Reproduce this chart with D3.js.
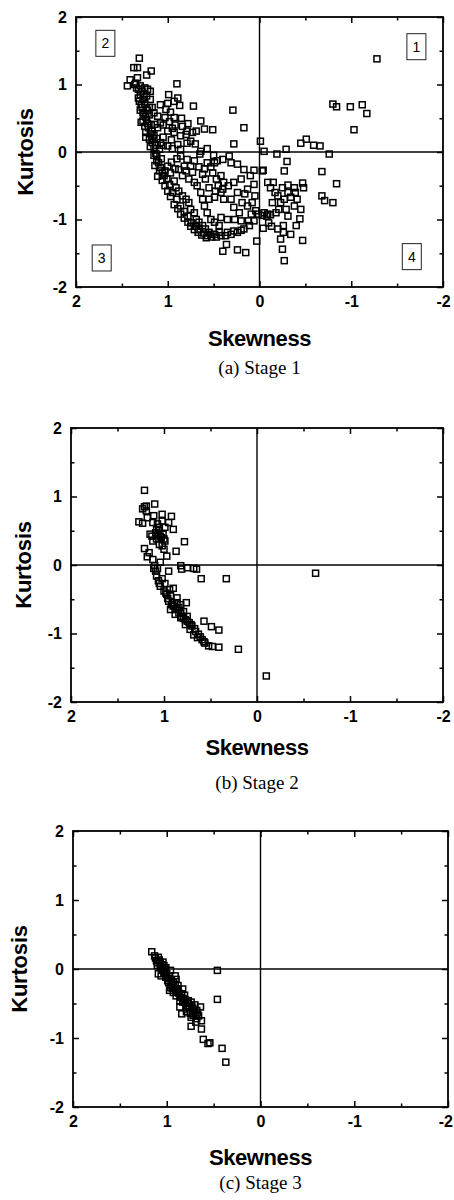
<!DOCTYPE html>
<html><head><meta charset="utf-8">
<script src="https://cdn.jsdelivr.net/npm/d3@7"></script>
<style>body{margin:0;background:#fff}svg{display:block}</style>
</head><body><svg id="fig" width="454" height="1200"></svg>
<script>
// Axis ticks and labels
const skewTicks = [2, 1, 0, -1, -2];
const kurtTicks = [-2, -1, 0, 1, 2];
const minorTicks = [1.5, 0.5, -0.5, -1.5];
const xTitle = "Skewness";
const yTitle = "Kurtosis";
const captions = ["(a) Stage 1", "(b) Stage 2", "(c) Stage 3"];

// Quadrant markers (stage 1 only): label, skewness, kurtosis
const quadrantNames = ["1", "2", "3", "4"];
const quadrantSkew = [-1.71, 1.68, 1.72, -1.66];
const quadrantKurt = [1.56, 1.61, -1.57, -1.55];

// Stage 1: [skewness, kurtosis]
const stage1 = [
 [1.31,1.39],[1.37,1.25],[1.33,1.25],[1.23,1.14],[1.18,1.20],[1.41,1.07],[1.44,0.98],[1.33,1.10],
 [1.32,0.93],[1.25,0.95],[1.22,0.93],[1.32,0.80],[1.29,0.70],[1.23,0.83],[1.19,0.78],[1.19,0.90],
 [1.28,0.66],[1.20,0.66],[1.17,0.66],[1.27,0.46],[1.22,0.42],[1.25,0.38],[1.24,0.29],[1.20,0.19],
 [1.17,0.14],[1.14,0.41],[1.11,0.36],[1.08,0.43],[1.17,0.31],[1.08,0.70],[1.02,0.63],[0.99,0.85],
 [0.89,0.80],[0.87,0.69],[0.97,0.59],[0.90,1.01],[0.93,0.51],[1.03,0.51],[1.11,0.53],[0.84,0.38],
 [0.79,0.31],[0.73,0.29],[0.69,0.31],[0.64,0.46],[0.60,0.34],[0.51,0.33],[0.72,0.68],[0.29,0.62],
 [0.17,0.36],[0.28,0.12],[1.00,0.31],[0.93,0.29],[0.86,0.24],[0.80,0.26],[1.08,0.14],[1.00,0.09],
 [0.89,0.11],[0.79,0.13],[0.75,0.16],[0.86,0.04],[0.64,0.01],[0.65,-0.03],[1.09,0.04],[1.12,-0.06],
 [1.10,-0.16],[1.08,-0.23],[1.06,-0.31],[1.04,-0.35],[1.00,-0.21],[0.97,-0.31],[0.93,-0.43],[0.91,-0.53],
 [0.88,-0.58],[0.84,-0.65],[0.80,-0.70],[0.77,-0.75],[0.75,-0.85],[0.71,-0.90],[0.69,-1.00],[0.66,-1.04],
 [0.62,-1.09],[0.59,-1.14],[0.55,-1.19],[0.49,-1.22],[0.44,-1.19],[0.42,-1.24],[0.35,-1.19],[0.28,-1.17],
 [0.24,-1.19],[0.40,-1.47],[0.36,-1.37],[0.24,-1.45],[0.15,-1.49],[0.03,-1.32],[0.86,-0.06],[0.79,-0.11],
 [0.71,-0.13],[0.82,-0.21],[0.75,-0.21],[0.88,-0.26],[0.84,-0.35],[0.77,-0.40],[0.71,-0.45],[0.68,-0.50],
 [0.64,-0.60],[0.62,-0.70],[0.60,-0.80],[0.57,-0.90],[0.53,-1.00],[0.49,-1.04],[0.44,-1.09],[0.57,-0.16],
 [0.49,-0.16],[0.46,-0.13],[0.40,-0.11],[0.33,-0.06],[0.31,-0.16],[0.24,-0.18],[0.17,-0.26],[0.06,-0.27],
 [-0.03,-0.28],[0.51,-0.31],[0.42,-0.35],[0.39,-0.45],[0.40,-0.55],[0.42,-0.60],[0.39,-0.70],[0.31,-0.70],
 [0.24,-0.60],[0.19,-0.75],[0.13,-0.55],[0.06,-0.48],[0.13,-0.80],[0.09,-0.92],[0.04,-0.87],[0.06,-1.02],
 [0.11,-1.09],[0.17,-1.14],[0.22,-0.90],[0.28,-0.82],[0.35,-1.00],[0.42,-0.97],[0.62,-0.33],[0.59,-0.40],
 [0.55,-0.53],[0.49,-0.67],[0.55,-0.70],[1.15,0.05],[1.13,-0.02],[1.07,-0.10],[1.03,-0.28],[1.01,-0.40],
 [0.98,-0.48],[0.95,-0.60],[0.90,-0.70],[0.86,-0.80],[0.82,-0.88],[0.78,-0.95],[0.74,-1.05],[0.70,-1.10],
 [0.66,-1.15],[0.61,-1.20],[0.57,-1.24],[0.52,-1.26],[1.27,0.58],[1.24,0.52],[1.30,0.85],[1.27,0.78],
 [1.35,1.02],[1.15,0.25],[1.12,0.20],[1.05,0.22],[0.96,0.18],[0.92,0.40],[0.98,0.45],[0.85,0.50],
 [0.78,0.42],[1.00,0.72],[0.93,0.75],
 [1.36,1.00],[1.34,0.95],[1.30,0.98],[1.28,0.90],[1.26,0.86],[1.31,0.75],[1.25,0.72],[1.22,0.62],
 [1.30,0.62],[1.26,0.56],[1.23,0.48],[1.29,0.44],[1.21,0.36],[1.18,0.40],[1.24,0.22],[1.19,0.27],
 [1.16,0.20],[1.13,0.10],[1.19,0.08],[1.15,-0.05],[1.12,-0.13],[1.14,-0.20],[1.09,-0.28],[1.11,-0.36],
 [1.06,-0.42],[1.03,-0.50],[1.00,-0.58],[0.97,-0.66],[0.93,-0.78],[0.89,-0.84],[0.86,-0.92],[0.82,-0.98],
 [0.78,-1.04],[0.75,-1.10],[0.71,-1.15],[0.67,-1.19],[0.63,-1.23],[0.58,-1.27],[0.53,-1.22],[0.47,-1.26],
 [0.37,-1.24],[0.31,-1.22],[0.20,-1.16],[0.12,-1.02],[0.01,-0.92],[1.05,0.10],[0.95,0.05],[0.90,-0.10],
 [0.96,-0.15],[0.92,-0.25],[0.80,-0.28],[0.73,-0.30],[0.66,-0.22],[0.60,-0.25],[0.53,-0.22],[0.47,-0.40],
 [0.45,-0.50],[0.48,-0.58],[0.34,-0.50],[0.28,-0.45],[0.20,-0.40],[0.10,-0.35],[0.16,-0.62],[0.05,-0.65],
 [0.08,-0.75],[0.27,-1.00],[0.20,-1.02],[1.20,0.55],[1.15,0.58],[1.05,0.40],[0.95,0.35],[0.70,0.12],
 [0.57,0.05],[0.50,-0.05],
 [-0.01,0.16],[-0.05,0.01],[-0.04,-0.27],[-0.09,-0.45],[-0.15,-0.45],[-0.12,-0.53],[-0.17,-0.60],[-0.14,-0.75],
 [-0.23,-0.75],[-0.18,-0.90],[-0.09,-0.92],[-0.05,-0.90],[-0.03,-0.94],[-0.04,-1.13],[-0.13,-1.10],[-0.20,-1.14],
 [-0.26,-1.09],[-0.31,-0.95],[-0.38,-0.80],[-0.45,-0.85],[-0.44,-0.99],[-0.40,-1.09],[-0.47,-1.31],[-0.27,-1.61],
 [-0.25,-1.44],[-0.23,-1.29],[-0.26,-1.19],[-0.34,-1.22],[-0.31,-0.49],[-0.38,-0.53],[-0.39,-0.60],[-0.31,-0.60],
 [-0.25,-0.53],[-0.47,-0.46],[-0.48,-0.53],[-0.41,-0.70],[-0.34,-0.67],[-0.27,-0.70],[-0.21,-0.85],[-0.29,-0.85],
 [-0.27,-0.28],[-0.30,-0.14],[-0.19,-0.03],[-0.29,0.04],[-0.08,-0.95],[-0.12,-0.93],[-0.10,-1.05],[-0.20,-0.65],
 [-1.28,1.38],[-0.80,0.71],[-0.84,0.67],[-0.99,0.67],[-1.12,0.70],[-1.17,0.57],[-1.03,0.33],[-0.51,0.19],
 [-0.45,0.13],[-0.59,0.10],[-0.66,0.09],[-0.76,-0.03],[-0.68,-0.29],[-0.84,-0.47],[-0.68,-0.65],[-0.71,-0.72],
 [-0.80,-0.75]
];

// Stage 2: [skewness, kurtosis]
const stage2 = [
 [1.21,1.09],[1.21,0.85],[1.19,0.86],[1.23,0.82],[1.19,0.79],[1.10,0.89],[1.27,0.63],[1.23,0.61],
 [1.18,0.69],[1.11,0.72],[1.02,0.74],[0.92,0.71],[1.12,0.62],[1.02,0.64],[0.95,0.62],[0.90,0.52],
 [0.99,0.55],[1.15,0.45],[1.09,0.47],[1.06,0.50],[1.04,0.42],[1.00,0.38],[1.08,0.38],[0.99,0.35],
 [1.12,0.35],[1.02,0.28],[1.00,0.23],[0.78,0.34],[0.87,0.20],[0.97,0.13],[1.21,0.24],[1.16,0.18],
 [1.18,0.12],[1.12,0.08],[1.10,-0.01],[1.09,-0.09],[1.08,-0.16],[1.06,-0.23],[1.04,-0.31],[1.00,-0.38],
 [0.97,-0.43],[0.93,-0.45],[0.95,-0.53],[0.91,-0.55],[0.90,-0.60],[0.86,-0.65],[0.82,-0.70],[0.81,-0.75],
 [0.77,-0.80],[0.73,-0.84],[0.70,-0.89],[0.66,-0.97],[0.63,-1.01],[0.59,-1.09],[0.56,-1.14],[0.52,-1.18],
 [0.48,-1.19],[0.41,-1.20],[0.95,-0.09],[0.82,-0.01],[0.81,-0.06],[0.75,-0.04],[0.68,-0.05],[0.65,-0.06],
 [0.60,-0.20],[0.33,-0.20],[0.76,-0.55],[0.82,-0.58],[0.57,-0.82],[0.49,-0.90],[0.41,-0.95],[0.90,-0.34],
 [0.86,-0.48],[0.93,-0.65],[0.88,-0.72],[0.82,-0.77],[0.77,-0.87],[0.72,-0.94],[0.68,-1.02],[0.64,-1.06],
 [1.05,0.55],[1.07,0.60],[1.01,0.45],[1.05,0.30],[1.13,0.42],[1.04,0.04],[1.07,-0.05],[1.02,-0.20],
 [0.99,-0.27],[0.94,-0.36],[0.86,-0.55],[0.84,-0.62],[0.79,-0.68],[0.75,-0.75],
 [1.08,0.52],[1.03,0.40],[1.06,0.44],[1.11,-0.05],[1.05,-0.27],[0.98,-0.41],[0.96,-0.49],[0.92,-0.58],
 [0.88,-0.64],[0.84,-0.70],[0.79,-0.78],[0.75,-0.82],[0.71,-0.87],[0.67,-0.93],[0.61,-1.05],[0.57,-1.12],
 [-0.63,-0.12],[0.20,-1.23],[-0.10,-1.62]
];

// Stage 3: [skewness, kurtosis]
const stage3 = [
 [1.16,0.25],[1.13,0.19],[1.09,0.17],[1.11,0.12],[1.07,0.10],[1.04,0.10],[1.10,0.05],[1.06,0.02],
 [1.02,0.00],[1.09,-0.07],[1.00,-0.07],[0.97,-0.10],[0.91,-0.10],[0.99,-0.17],[0.95,-0.24],[0.91,-0.22],
 [0.97,-0.31],[0.93,-0.34],[0.88,-0.29],[0.90,-0.39],[0.84,-0.36],[0.86,-0.46],[0.81,-0.48],[0.77,-0.46],
 [0.74,-0.48],[0.79,-0.55],[0.76,-0.58],[0.72,-0.58],[0.68,-0.60],[0.86,-0.55],[0.84,-0.65],[0.74,-0.70],
 [0.68,-0.72],[0.64,-0.55],[0.63,-0.75],[0.63,-0.87],[0.74,-0.83],[0.61,-1.02],[0.56,-1.08],[0.54,-1.07],
 [0.41,-1.15],[0.37,-1.35],[0.46,-0.44],[0.46,-0.02],[1.01,0.02],[0.96,-0.02],[0.90,-0.15],[0.83,-0.29],
 [0.81,-0.38],[0.78,-0.53],[0.71,-0.65],[0.69,-0.77],[0.93,-0.19],[0.88,-0.24],[1.08,0.13],[1.05,0.06],
 [1.03,-0.05],[0.98,-0.14],[0.94,-0.28],[0.89,-0.33],[0.82,-0.43],[0.79,-0.62],[0.70,-0.52],[0.66,-0.68],
 [1.12,0.16],[1.10,0.09],[1.07,0.04],[1.05,-0.02],[1.03,0.05],[1.06,-0.10],[1.01,-0.12],[0.98,-0.20],
 [0.95,-0.16],[0.92,-0.28],[0.96,-0.27],[0.90,-0.31],[0.87,-0.35],[0.85,-0.41],[0.83,-0.48],[0.80,-0.45],
 [0.78,-0.50],[0.76,-0.53],[0.73,-0.55],[0.71,-0.60],[0.75,-0.64],[0.72,-0.67],[0.69,-0.66],[0.67,-0.63]
];

const stages = [stage1, stage2, stage3];

// Frame geometry of the three stacked panels (pixels)
const frames = [
  {left: 76, right: 443, top: 17,  bottom: 287, titleY: 346, capY: 374, ytx: 33},
  {left: 71, right: 443, top: 428, bottom: 702, titleY: 755, capY: 789, ytx: 31},
  {left: 73, right: 448, top: 831, bottom: 1107, titleY: 1165, capY: 1189, ytx: 27}
];

const svg = d3.select("#fig");
const sans = "Liberation Sans, Arial, sans-serif";
const serif = "Liberation Serif, Times New Roman, serif";
const fmt = d => String(d);  // plain hyphen for negatives

stages.forEach((pts, i) => {
  const f = frames[i];
  const x = d3.scaleLinear().domain([2, -2]).range([f.left, f.right]);
  const y = d3.scaleLinear().domain([-2, 2]).range([f.bottom, f.top]);
  const g = svg.append("g");

  // inward major ticks on all four sides, labels on bottom and left
  const sides = [
    [d3.axisBottom(x).tickValues(skewTicks), `translate(0,${f.bottom})`, true],
    [d3.axisTop(x).tickValues(skewTicks), `translate(0,${f.top})`, false],
    [d3.axisLeft(y).tickValues(kurtTicks), `translate(${f.left},0)`, true],
    [d3.axisRight(y).tickValues(kurtTicks), `translate(${f.right},0)`, false]
  ];
  sides.forEach(([ax, tr, labels]) => {
    const a = g.append("g").attr("transform", tr)
      .call(ax.tickSize(-6).tickFormat(fmt).tickPadding(labels ? 9 : 0));
    a.select(".domain").remove();
    a.selectAll("line").attr("stroke", "#000").attr("stroke-width", 1.5);
    if (!labels) a.selectAll("text").remove();
    else a.selectAll("text").attr("font-family", sans).attr("font-weight", "bold")
      .attr("font-size", 16).attr("fill", "#000");
  });
  // minor ticks at half units
  [
    [d3.axisBottom(x), `translate(0,${f.bottom})`],
    [d3.axisTop(x), `translate(0,${f.top})`],
    [d3.axisLeft(y), `translate(${f.left},0)`],
    [d3.axisRight(y), `translate(${f.right},0)`]
  ].forEach(([ax, tr]) => {
    const a = g.append("g").attr("transform", tr).call(ax.tickValues(minorTicks).tickSize(-3.5));
    a.select(".domain").remove();
    a.selectAll("text").remove();
    a.selectAll("line").attr("stroke", "#000").attr("stroke-width", 1.5);
  });

  // frame
  g.append("rect").attr("x", f.left).attr("y", f.top)
    .attr("width", f.right - f.left).attr("height", f.bottom - f.top)
    .attr("fill", "none").attr("stroke", "#000").attr("stroke-width", 1.8);

  // quadrant dividers at zero
  g.append("line").attr("x1", x(0)).attr("x2", x(0)).attr("y1", f.top).attr("y2", f.bottom)
    .attr("stroke", "#000").attr("stroke-width", 1.4);
  g.append("line").attr("x1", f.left).attr("x2", f.right).attr("y1", y(0)).attr("y2", y(0))
    .attr("stroke", "#000").attr("stroke-width", 1.4);

  // markers: open squares
  const s = 6;
  g.append("g").selectAll("rect").data(pts).join("rect")
    .attr("x", d => x(d[0]) - s / 2).attr("y", d => y(d[1]) - s / 2)
    .attr("width", s).attr("height", s)
    .attr("fill", "none").attr("stroke", "#000").attr("stroke-width", 1.5);

  // axis titles and caption
  g.append("text").attr("x", x(0)).attr("y", f.titleY).attr("text-anchor", "middle")
    .attr("font-family", sans).attr("font-weight", "bold").attr("font-size", 22)
    .attr("letter-spacing", -0.4).text(xTitle);
  g.append("text").attr("transform", `translate(${f.ytx},${y(0)}) rotate(-90)`)
    .attr("text-anchor", "middle").attr("font-family", sans).attr("font-weight", "bold")
    .attr("font-size", 22).attr("letter-spacing", -0.2).text(yTitle);
  g.append("text").attr("x", x(0)).attr("y", f.capY).attr("text-anchor", "middle")
    .attr("font-family", serif).attr("font-size", 19).text(captions[i]);

  // numbered quadrant boxes
  if (i === 0) {
    const q = g.append("g").selectAll("g").data(quadrantNames).join("g")
      .attr("transform", (d, j) => `translate(${x(quadrantSkew[j])},${y(quadrantKurt[j])})`);
    q.append("rect").attr("x", -9.5).attr("y", -13).attr("width", 19).attr("height", 26)
      .attr("fill", "#fff").attr("stroke", "#222").attr("stroke-width", 1);
    q.append("text").attr("text-anchor", "middle").attr("dy", 5)
      .attr("font-family", sans).attr("font-size", 14).text(d => d);
  }
});

// keep tick labels inside the page width
svg.selectAll(".tick text").each(function () {
  const b = this.getBBox();
  const m = this.getCTM();
  const right = m.e + b.x + b.width;
  if (right > 453) d3.select(this).attr("x", 453 - right);
});
</script>
</body></html>
